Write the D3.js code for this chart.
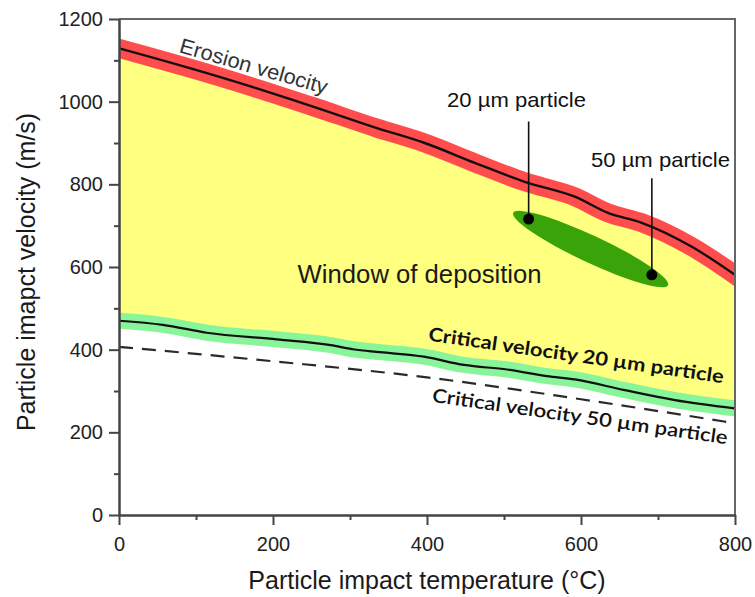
<!DOCTYPE html>
<html>
<head>
<meta charset="utf-8">
<script src="https://cdn.jsdelivr.net/npm/d3@7.9.0/dist/d3.min.js"></script>
<style>
  body { margin: 0; background: #fff; }
  svg { display: block; font-family: "Liberation Sans", Arial, sans-serif; }
  .axis { font-family: "Liberation Sans", Arial, sans-serif; }
  .axis text { font-size: 20px; fill: #222; }
  .axis path, .axis line { stroke: #444; stroke-width: 2; }
  .lbl-crit { font-family: Lato, "Open Sans", sans-serif; font-weight: 700; font-size: 19px; fill: #111; }
</style>
</head>
<body>
<svg id="chart" width="755" height="597"></svg>
<script>
// values
const erosionT = [0, 92, 174, 252, 335, 397, 462, 527, 592, 635, 679, 744, 800];
const erosionV = [1129, 1081, 1035, 988, 936, 900, 852, 806, 770, 731, 707, 649, 581];

const crit20T = [0, 57, 114, 205, 275, 304, 339, 396, 448, 504, 556, 592, 657, 722, 800];
const crit20V = [470, 460, 441, 425, 411, 401, 394, 383, 363, 352, 336, 328, 302, 278, 258];

const crit50T = [0, 200, 400, 600, 800];
const crit50V = [407, 372, 333, 280, 222];

// particle points (temperature, velocity)
const particleNames = ["20 µm particle", "50 µm particle"];
const particleT = [532, 692];
const particleV = [716, 581];
const particleLabelT = [426, 613];
const particleLabelV = [987, 842];
const leaderTopV = [952, 815];

// deposition ellipse tips
const ellipseT = [512, 713];
const ellipseV = [731, 556];

const xTicks = [0, 200, 400, 600, 800];
const yTicks = [0, 200, 400, 600, 800, 1000, 1200];

const svg = d3.select("#chart");
const x = d3.scaleLinear().domain([0, 800]).range([119, 735]);
const y = d3.scaleLinear().domain([0, 1200]).range([515, 19]);

const zip = (ts, vs) => ts.map((t, i) => [t, vs[i]]);
const erosion = zip(erosionT, erosionV);
const crit20 = zip(crit20T, crit20V);
const crit50 = zip(crit50T, crit50V);

const line = d3.line().x(d => x(d[0])).y(d => y(d[1])).curve(d3.curveMonotoneX);
const below = d3.area().x(d => x(d[0])).y0(y(0)).y1(d => y(d[1])).curve(d3.curveMonotoneX);

svg.append("clipPath").attr("id", "plot")
    .append("rect")
    .attr("x", x(0)).attr("y", y(1200))
    .attr("width", x(800) - x(0)).attr("height", y(0) - y(1200));

const plot = svg.append("g").attr("clip-path", "url(#plot)");

// window of deposition: yellow under erosion, white again under critical 20
plot.append("path").attr("d", below(erosion)).attr("fill", "#ffff80");
plot.append("path").attr("d", below(crit20)).attr("fill", "#fff");

// critical velocity 20 um
plot.append("path").attr("d", line(crit20))
    .attr("fill", "none").attr("stroke", "#88f59a")
    .attr("stroke-width", 16).attr("stroke-linecap", "square");
plot.append("path").attr("d", line(crit20))
    .attr("fill", "none").attr("stroke", "#111").attr("stroke-width", 2.2);

// critical velocity 50 um
plot.append("path").attr("d", line(crit50))
    .attr("fill", "none").attr("stroke", "#2a2a2a")
    .attr("stroke-width", 2.2).attr("stroke-dasharray", "14,9");

// erosion velocity
plot.append("path").attr("d", line(erosion))
    .attr("fill", "none").attr("stroke", "#ff4d4d")
    .attr("stroke-width", 19).attr("stroke-linecap", "square");
plot.append("path").attr("d", line(erosion))
    .attr("fill", "none").attr("stroke", "#111").attr("stroke-width", 2.4);

// ellipse
const ex0 = x(ellipseT[0]), ey0 = y(ellipseV[0]);
const ex1 = x(ellipseT[1]), ey1 = y(ellipseV[1]);
const ang = Math.atan2(ey1 - ey0, ex1 - ex0) * 180 / Math.PI;
plot.append("ellipse")
    .attr("cx", (ex0 + ex1) / 2).attr("cy", (ey0 + ey1) / 2)
    .attr("rx", Math.hypot(ex1 - ex0, ey1 - ey0) / 2).attr("ry", 13.5)
    .attr("transform", `rotate(${ang} ${(ex0 + ex1) / 2} ${(ey0 + ey1) / 2})`)
    .attr("fill", "#3aa30a");

// leaders, dots, labels
particleNames.forEach((name, i) => {
    svg.append("line")
        .attr("x1", x(particleT[i])).attr("x2", x(particleT[i]))
        .attr("y1", y(leaderTopV[i])).attr("y2", y(particleV[i]))
        .attr("stroke", "#111").attr("stroke-width", 1.6);
    svg.append("circle")
        .attr("cx", x(particleT[i])).attr("cy", y(particleV[i]))
        .attr("r", 5.5).attr("fill", "#000");
    svg.append("text")
        .attr("x", x(particleLabelT[i])).attr("y", y(particleLabelV[i]))
        .attr("font-size", 21).attr("fill", "#111")
        .attr("textLength", 139).attr("lengthAdjust", "spacingAndGlyphs")
        .text(name);
});

svg.append("text")
    .attr("x", x(232)).attr("y", y(561))
    .attr("font-size", 25).attr("fill", "#1a1a1a")
    .attr("textLength", 244).attr("lengthAdjust", "spacingAndGlyphs")
    .text("Window of deposition");

svg.append("text")
    .attr("transform", `translate(${x(77)},${y(1120)}) rotate(16)`)
    .attr("font-size", 21).attr("fill", "#333")
    .attr("textLength", 153).attr("lengthAdjust", "spacingAndGlyphs")
    .text("Erosion velocity");

svg.append("text").attr("class", "lbl-crit")
    .attr("transform", `translate(${x(401)},${y(422)}) rotate(8.2)`)
    .attr("textLength", 298).attr("lengthAdjust", "spacingAndGlyphs")
    .text("Critical velocity 20 µm particle");

svg.append("text").attr("class", "lbl-crit")
    .attr("transform", `translate(${x(406)},${y(274)}) rotate(8.2)`)
    .attr("textLength", 298).attr("lengthAdjust", "spacingAndGlyphs")
    .style("font-weight", 600)
    .text("Critical velocity 50 µm particle");

// frame (top and right)
svg.append("path")
    .attr("d", `M${x(0)},${y(1200)}H${x(800)}V${y(0)}`)
    .attr("fill", "none").attr("stroke", "#666").attr("stroke-width", 2);

// axes
const xMinor = d3.range(100, 800, 200);
const yMinor = d3.range(100, 1200, 200);
const fmt = d3.format("d");

svg.append("g").attr("class", "axis")
    .attr("transform", `translate(0,${y(0)})`)
    .call(d3.axisBottom(x).tickValues(xMinor).tickSize(5).tickSizeOuter(0).tickFormat(""));
svg.append("g").attr("class", "axis")
    .attr("transform", `translate(0,${y(0)})`)
    .call(d3.axisBottom(x).tickValues(xTicks).tickSize(10).tickSizeOuter(0).tickPadding(12).tickFormat(fmt));

svg.append("g").attr("class", "axis")
    .attr("transform", `translate(${x(0)},0)`)
    .call(d3.axisLeft(y).tickValues(yMinor).tickSize(5).tickSizeOuter(0).tickFormat(""));
svg.append("g").attr("class", "axis")
    .attr("transform", `translate(${x(0)},0)`)
    .call(d3.axisLeft(y).tickValues(yTicks).tickSize(10).tickSizeOuter(0).tickPadding(6).tickFormat(fmt));

svg.selectAll("g.axis").attr("font-family", null).attr("font-size", null);

// axis titles
svg.append("text")
    .attr("x", (x(0) + x(800)) / 2).attr("y", 589)
    .attr("text-anchor", "middle").attr("font-size", 25).attr("fill", "#1a1a1a")
    .text("Particle impact temperature (°C)");

svg.append("text")
    .attr("transform", `translate(35,${(y(0) + y(1200)) / 2 + 5}) rotate(-90)`)
    .attr("text-anchor", "middle").attr("font-size", 25).attr("fill", "#1a1a1a")
    .text("Particle imapct velocity (m/s)");
</script>
</body>
</html>
